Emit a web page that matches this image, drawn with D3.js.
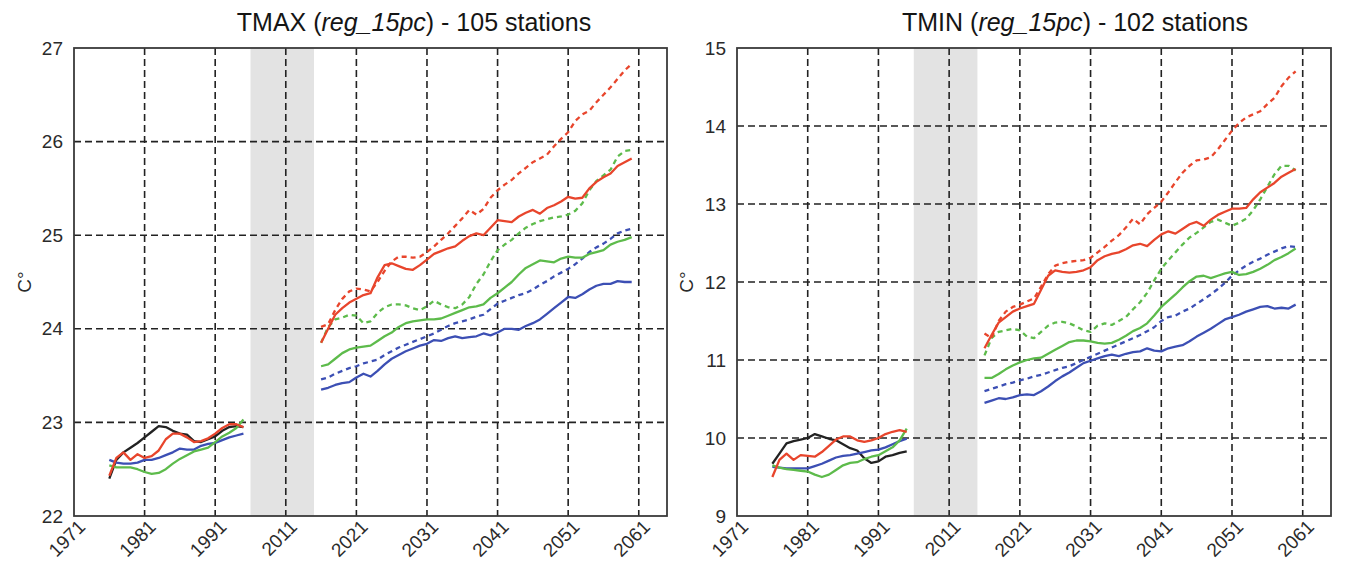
<!DOCTYPE html>
<html><head><meta charset="utf-8">
<script src="https://cdn.jsdelivr.net/npm/d3@7/dist/d3.min.js"></script>
<style>
html,body{margin:0;padding:0;background:#fff;}
svg{display:block;font-family:"Liberation Sans",Arial,sans-serif;}
</style></head>
<body><svg id="chart" width="1346" height="566"></svg>
<script>
// ---------- data ----------
const histYears = [1976,1977,1978,1979,1980,1981,1982,1983,1984,1985,1986,1987,1988,1989,1990,1991,1992,1993,1994,1995];
const futYears = [2016,2017,2018,2019,2020,2021,2022,2023,2024,2025,2026,2027,2028,2029,2030,2031,2032,2033,2034,2035,2036,2037,2038,2039,2040,2041,2042,2043,2044,2045,2046,2047,2048,2049,2050,2051,2052,2053,2054,2055,2056,2057,2058,2059,2060];
const gapBand = [1996, 2015];
const xTickValues = [1971,1981,1991,2011,2021,2031,2041,2051,2061];
const xTickLabels = ["1971","1981","1991","2011","2021","2031","2041","2051","2061"];

const tmaxTicks = [22,23,24,25,26,27];
const tminTicks = [9,10,11,12,13,14,15];

// TMAX historical
const tmaxHistBlack = [22.40,22.60,22.68,22.73,22.78,22.84,22.90,22.96,22.95,22.91,22.88,22.87,22.80,22.79,22.82,22.85,22.91,22.95,22.96,22.95];
const tmaxHistRed   = [22.43,22.62,22.68,22.60,22.66,22.62,22.64,22.70,22.82,22.88,22.88,22.84,22.79,22.80,22.83,22.88,22.94,22.98,22.98,22.95];
const tmaxHistBlue  = [22.60,22.57,22.56,22.56,22.57,22.60,22.60,22.62,22.65,22.68,22.72,22.71,22.71,22.75,22.77,22.78,22.81,22.84,22.86,22.88];
const tmaxHistGreen = [22.54,22.52,22.52,22.52,22.50,22.47,22.45,22.46,22.50,22.56,22.61,22.65,22.69,22.71,22.73,22.79,22.85,22.89,22.94,23.03];
// TMAX projections
const tmaxRed      = [23.85,24.00,24.15,24.22,24.28,24.32,24.36,24.38,24.55,24.68,24.70,24.67,24.64,24.63,24.68,24.74,24.80,24.83,24.86,24.88,24.94,24.99,25.02,25.00,25.08,25.16,25.15,25.14,25.20,25.24,25.27,25.23,25.29,25.32,25.36,25.41,25.39,25.40,25.50,25.57,25.62,25.66,25.74,25.78,25.82];
const tmaxRedDash  = [24.02,24.05,24.20,24.32,24.40,24.43,24.42,24.40,24.50,24.62,24.72,24.77,24.77,24.76,24.77,24.82,24.88,24.95,25.02,25.10,25.18,25.27,25.22,25.28,25.40,25.48,25.54,25.59,25.66,25.72,25.78,25.82,25.86,25.95,26.03,26.10,26.22,26.29,26.33,26.42,26.50,26.58,26.67,26.76,26.83];
const tmaxGreen    = [23.60,23.62,23.68,23.74,23.78,23.80,23.81,23.82,23.87,23.92,23.96,24.02,24.06,24.08,24.09,24.10,24.10,24.11,24.14,24.17,24.20,24.23,24.24,24.26,24.33,24.38,24.44,24.50,24.58,24.65,24.69,24.73,24.72,24.71,24.75,24.77,24.76,24.76,24.80,24.82,24.84,24.90,24.93,24.95,24.98];
const tmaxGreenDash= [23.85,24.02,24.10,24.12,24.15,24.14,24.06,24.08,24.17,24.23,24.26,24.26,24.25,24.22,24.20,24.24,24.30,24.26,24.23,24.22,24.26,24.34,24.48,24.58,24.72,24.84,24.90,24.95,25.02,25.08,25.12,25.15,25.17,25.19,25.20,25.22,25.26,25.34,25.48,25.58,25.64,25.70,25.84,25.90,25.91];
const tmaxBlue     = [23.35,23.37,23.40,23.42,23.43,23.48,23.52,23.49,23.55,23.62,23.68,23.72,23.76,23.79,23.82,23.84,23.88,23.87,23.90,23.92,23.90,23.91,23.92,23.95,23.93,23.96,24.00,24.00,23.99,24.03,24.06,24.10,24.16,24.22,24.28,24.34,24.33,24.37,24.42,24.46,24.48,24.48,24.51,24.50,24.50];
const tmaxBlueDash = [23.46,23.48,23.52,23.55,23.58,23.60,23.63,23.65,23.67,23.72,23.76,23.80,23.83,23.86,23.89,23.92,23.95,23.99,24.03,24.06,24.08,24.10,24.13,24.15,24.21,24.27,24.30,24.33,24.36,24.38,24.42,24.47,24.51,24.56,24.60,24.64,24.69,24.75,24.82,24.87,24.91,24.96,25.02,25.05,25.07];

// TMIN historical
const tminHistBlack = [9.67,9.80,9.93,9.96,9.98,10.00,10.05,10.02,9.99,9.97,9.92,9.87,9.84,9.74,9.68,9.70,9.76,9.78,9.81,9.83];
const tminHistRed   = [9.50,9.72,9.80,9.72,9.78,9.77,9.76,9.82,9.90,9.98,10.02,10.02,9.97,9.95,9.97,10.00,10.05,10.08,10.10,10.08];
const tminHistBlue  = [9.63,9.62,9.61,9.61,9.61,9.61,9.64,9.67,9.71,9.75,9.77,9.78,9.80,9.82,9.84,9.85,9.88,9.92,9.96,9.99];
const tminHistGreen = [9.65,9.62,9.60,9.59,9.58,9.57,9.53,9.50,9.53,9.59,9.65,9.68,9.69,9.73,9.76,9.78,9.83,9.88,9.97,10.12];
// TMIN projections
const tminRed      = [11.15,11.32,11.48,11.55,11.62,11.66,11.69,11.72,11.90,12.08,12.15,12.13,12.12,12.13,12.15,12.19,12.28,12.33,12.36,12.38,12.42,12.47,12.49,12.46,12.54,12.61,12.65,12.62,12.68,12.74,12.77,12.72,12.80,12.86,12.90,12.94,12.94,12.95,13.06,13.15,13.21,13.27,13.35,13.40,13.45];
const tminRedDash  = [11.34,11.28,11.50,11.62,11.68,11.71,11.75,11.79,11.94,12.10,12.21,12.24,12.26,12.27,12.28,12.31,12.38,12.45,12.53,12.60,12.70,12.81,12.74,12.87,12.95,13.03,13.15,13.28,13.40,13.49,13.56,13.57,13.60,13.70,13.82,13.94,14.04,14.11,14.15,14.19,14.28,14.36,14.51,14.62,14.70];
const tminGreen    = [10.77,10.77,10.82,10.88,10.93,10.97,11.00,11.02,11.03,11.08,11.13,11.18,11.23,11.25,11.25,11.24,11.22,11.21,11.22,11.26,11.31,11.37,11.41,11.47,11.57,11.68,11.76,11.84,11.93,12.01,12.07,12.08,12.05,12.08,12.11,12.13,12.09,12.10,12.13,12.17,12.22,12.28,12.32,12.37,12.43];
const tminGreenDash= [11.06,11.28,11.36,11.38,11.40,11.38,11.30,11.28,11.36,11.44,11.48,11.49,11.47,11.43,11.38,11.36,11.44,11.47,11.45,11.50,11.55,11.65,11.74,11.86,12.02,12.17,12.28,12.38,12.48,12.57,12.63,12.70,12.77,12.80,12.76,12.72,12.76,12.81,12.92,13.06,13.22,13.38,13.49,13.49,13.43];
const tminBlue     = [10.45,10.48,10.51,10.50,10.52,10.55,10.56,10.55,10.60,10.66,10.73,10.79,10.84,10.90,10.96,10.99,11.02,11.05,11.07,11.05,11.08,11.10,11.11,11.15,11.12,11.11,11.15,11.17,11.19,11.24,11.30,11.35,11.40,11.46,11.52,11.55,11.58,11.62,11.65,11.68,11.69,11.66,11.67,11.66,11.71];
const tminBlueDash = [10.60,10.63,10.66,10.69,10.71,10.74,10.76,10.79,10.81,10.84,10.87,10.90,10.92,10.96,11.00,11.04,11.08,11.12,11.16,11.20,11.24,11.28,11.32,11.37,11.42,11.50,11.55,11.57,11.62,11.66,11.72,11.78,11.84,11.91,11.99,12.08,12.15,12.21,12.26,12.30,12.35,12.39,12.43,12.46,12.45];

// ---------- styles ----------
const RED = "#e8452c", GREEN = "#5dbb4b", BLUE = "#3c4fb4", BLACK = "#222222";

const panels = [
  {title:["TMAX (", "reg_15pc", ") - 105 stations"], left:74, top:48, width:593, height:468,
   yDomain:[22,27], yTicks:tmaxTicks, ylabX:31, titleX:414,
   hist:[[tmaxHistBlack,BLACK],[tmaxHistBlue,BLUE],[tmaxHistGreen,GREEN],[tmaxHistRed,RED]],
   fut:[[tmaxBlue,BLUE,false],[tmaxBlueDash,BLUE,true],[tmaxGreen,GREEN,false],[tmaxGreenDash,GREEN,true],[tmaxRedDash,RED,true],[tmaxRed,RED,false]]},
  {title:["TMIN (", "reg_15pc", ") - 102 stations"], left:737, top:48, width:594, height:468,
   yDomain:[9,15], yTicks:tminTicks, ylabX:693, titleX:1075,
   hist:[[tminHistBlack,BLACK],[tminHistBlue,BLUE],[tminHistGreen,GREEN],[tminHistRed,RED]],
   fut:[[tminBlue,BLUE,false],[tminBlueDash,BLUE,true],[tminGreen,GREEN,false],[tminGreenDash,GREEN,true],[tminRedDash,RED,true],[tminRed,RED,false]]}
];

const svg = d3.select("#chart");
svg.append("rect").attr("width",1346).attr("height",566).attr("fill","#fff");

panels.forEach(p => {
  const u = p.width / 84;
  // broken axis: 1996-2011 compressed
  const x = d3.scaleLinear().domain([1971,1996,2011,2065]).range([0,25*u,30*u,84*u]);
  const y = d3.scaleLinear().domain(p.yDomain).range([p.height,0]);
  const g = svg.append("g").attr("transform",`translate(${p.left},${p.top})`);

  // gap band
  g.append("rect").attr("x",x(gapBand[0])).attr("y",0)
    .attr("width",x(gapBand[1])-x(gapBand[0])).attr("height",p.height)
    .attr("fill","#e3e3e3");

  // grid
  const grid = g.append("g").attr("stroke","#222").attr("stroke-width",1.6).attr("stroke-dasharray","7,4");
  grid.selectAll("line.v").data(xTickValues.slice(1)).join("line")
    .attr("x1",d=>x(d)).attr("x2",d=>x(d)).attr("y1",0).attr("y2",p.height);
  grid.selectAll("line.h").data(p.yTicks.slice(1,-1)).join("line")
    .attr("y1",d=>y(d)).attr("y2",d=>y(d)).attr("x1",0).attr("x2",p.width);

  // lines
  const lineH = d3.line().x((d,i)=>x(histYears[i])).y(d=>y(d));
  const lineF = d3.line().x((d,i)=>x(futYears[i])).y(d=>y(d));
  p.hist.forEach(([arr,col]) => {
    g.append("path").datum(arr).attr("d",lineH).attr("fill","none")
      .attr("stroke",col).attr("stroke-width",2.3).attr("stroke-linejoin","round");
  });
  p.fut.forEach(([arr,col,dash]) => {
    g.append("path").datum(arr).attr("d",lineF).attr("fill","none")
      .attr("stroke",col).attr("stroke-width",2.3).attr("stroke-linejoin","round")
      .attr("stroke-dasharray",dash?"5,4":null);
  });

  // frame
  g.append("rect").attr("width",p.width).attr("height",p.height)
    .attr("fill","none").attr("stroke","#3a3a3a").attr("stroke-width",1.8);

  // axes
  const xa = g.append("g").attr("transform",`translate(0,${p.height})`)
    .call(d3.axisBottom(x).tickValues(xTickValues).tickFormat((d,i)=>xTickLabels[i]).tickSize(0));
  xa.select(".domain").remove();
  xa.selectAll("text").attr("font-size",19).attr("fill","#2a2a2a")
    .attr("text-anchor","end").attr("dy",null).attr("y",0)
    .attr("transform","translate(12,12) rotate(-45)");

  const ya = g.append("g").call(d3.axisLeft(y).tickValues(p.yTicks).tickFormat(d3.format("d")).tickSize(0).tickPadding(11));
  ya.select(".domain").remove();
  ya.selectAll("text").attr("font-size",19).attr("fill","#2a2a2a");

  // y label
  svg.append("text").attr("transform",`translate(${p.ylabX},${p.top+p.height/2}) rotate(-90)`)
    .attr("text-anchor","middle").attr("font-size",19).attr("fill","#2a2a2a").text("C°");

  // title
  const t = svg.append("text").attr("x",p.titleX).attr("y",31)
    .attr("text-anchor","middle").attr("font-size",25).attr("fill","#151515");
  t.append("tspan").text(p.title[0]);
  t.append("tspan").attr("font-style","italic").text(p.title[1]);
  t.append("tspan").text(p.title[2]);
});
</script></body></html>
